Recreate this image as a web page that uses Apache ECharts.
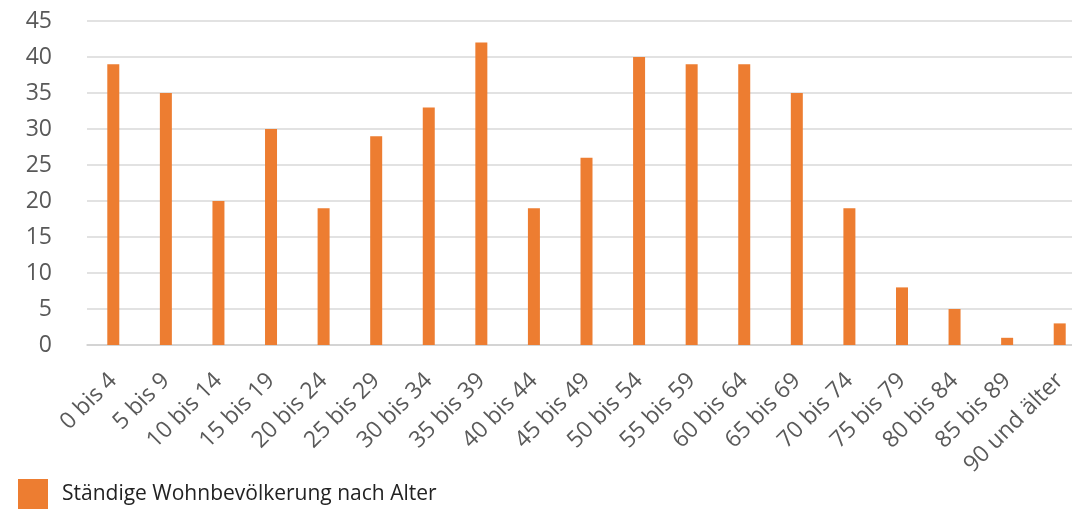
<!DOCTYPE html>
<html>
<head>
<meta charset="utf-8">
<script src="https://cdn.jsdelivr.net/npm/echarts@6/dist/echarts.min.js"></script>
<style>
  html, body { margin: 0; padding: 0; background: #fff; }
  #chart { width: 1072px; height: 510px; }
</style>
</head>
<body>
<div id="chart"></div>
<script>
const categories = ["0 bis 4", "5 bis 9", "10 bis 14", "15 bis 19", "20 bis 24", "25 bis 29",
  "30 bis 34", "35 bis 39", "40 bis 44", "45 bis 49", "50 bis 54", "55 bis 59", "60 bis 64",
  "65 bis 69", "70 bis 74", "75 bis 79", "80 bis 84", "85 bis 89", "90 und älter"];
const einwohner = [39, 35, 20, 30, 19, 29, 33, 42, 19, 26, 40, 39, 39, 35, 19, 8, 5, 1, 3];
const seriesName = "Ständige Wohnbevölkerung nach Alter";

const font = "'Open Sans', 'Noto Sans', sans-serif";
const mychart = echarts.init(document.getElementById("chart"));
const option = {
  animation: false,
  textStyle: { fontFamily: font },
  legend: {
    data: [seriesName],
    left: 13,
    top: 474,
    icon: "rect",
    itemWidth: 30,
    itemHeight: 30,
    textStyle: { fontSize: 21, color: "#222", fontFamily: font, padding: [0, 0, 0, 9] },
  },
  grid: {
    left: 87,
    top: 21,
    right: -14,
    height: 324,
    outerBoundsMode: "none",
  },
  xAxis: {
    type: "category",
    data: categories,
    axisLine: { lineStyle: { color: "#d0d0d0", width: 1.5 } },
    axisTick: { show: false },
    axisLabel: {
      rotate: 45,
      fontSize: 23,
      color: "#595959",
      margin: 32,
      interval: 0,
      fontFamily: font,
    },
  },
  yAxis: {
    type: "value",
    min: 0,
    max: 45,
    interval: 5,
    axisLine: { show: false },
    axisTick: { show: false },
    splitLine: { lineStyle: { color: "#d9d9d9", width: 1.5 } },
    axisLabel: {
      fontSize: 23,
      color: "#595959",
      margin: 25,
      padding: [0, 10, 0, 0],
      fontFamily: font,
    },
  },
  series: [
    {
      name: seriesName,
      type: "bar",
      barWidth: 12,
      itemStyle: { color: "#ed7d31" },
      data: einwohner,
    },
  ],
};
mychart.setOption(option);
</script>
</body>
</html>
